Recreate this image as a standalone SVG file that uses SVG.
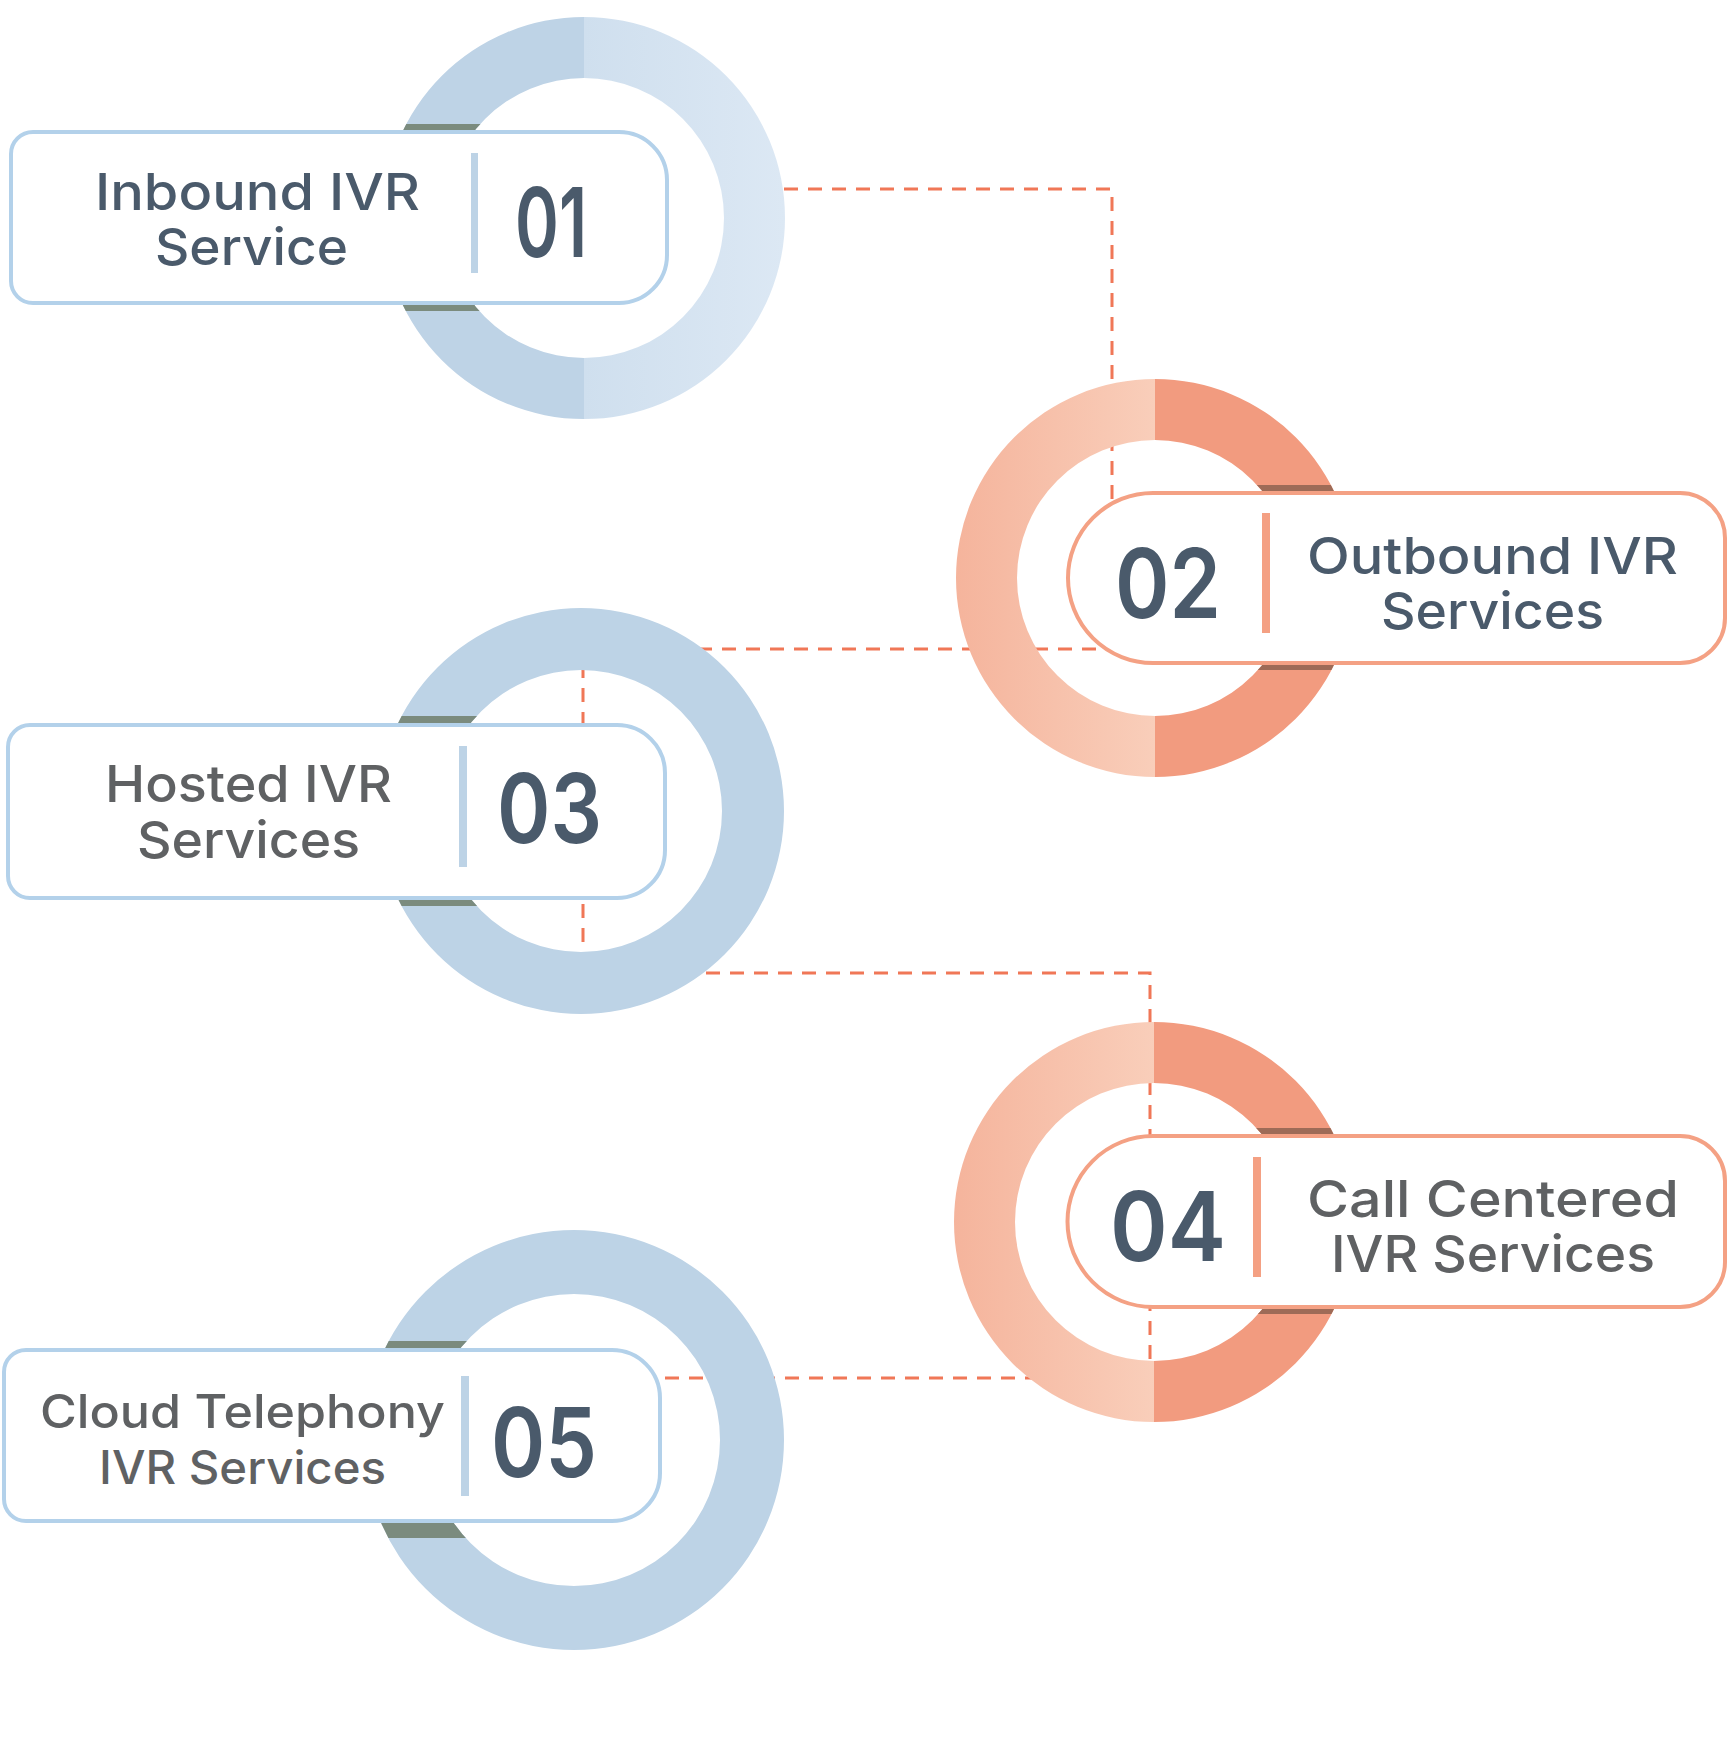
<svg xmlns="http://www.w3.org/2000/svg" width="1729" height="1740" viewBox="0 0 1729 1740">
<style>
.conn{fill:none;stroke:#F07757;stroke-width:3;stroke-dasharray:14 10}
.boxb{fill:#fff;stroke:#B3D1EA;stroke-width:4}
.boxo{fill:#fff;stroke:#F4A184;stroke-width:4}
.divb{fill:#BDD3E6}
.divo{fill:#F4A083}
.lbl{font-family:Inter,"Open Sans","Liberation Sans",sans-serif;font-weight:500;font-size:51px}
.slate{fill:#4A5A6B}
.grey{fill:#5F6163}
.num{font-family:Inter,"Open Sans","Liberation Sans",sans-serif;font-weight:600;font-size:96px;fill:#4A5A6B}
.bandb{fill:#7B8B7E}
.bando{fill:#9E6B57}
.ringb{fill:#BDD3E6}
.ringo{fill:#F29B7F}
</style>
<defs>
<linearGradient id="gB" x1="0" y1="0" x2="1" y2="0">
<stop offset="0" stop-color="#CFDFEE"/><stop offset="1" stop-color="#DCE8F4"/>
</linearGradient>
<linearGradient id="gO" x1="0" y1="0" x2="1" y2="0">
<stop offset="0" stop-color="#F5B49C"/><stop offset="1" stop-color="#F9CEBA"/>
</linearGradient>
<clipPath id="c1"><path clip-rule="evenodd" d="M383,218A201,201 0 1 0 785,218A201,201 0 1 0 383,218ZM444,218A140,140 0 1 1 724,218A140,140 0 1 1 444,218Z"/></clipPath>
<clipPath id="c2"><path clip-rule="evenodd" d="M956,578A199,199 0 1 0 1354,578A199,199 0 1 0 956,578ZM1017,578A138,138 0 1 1 1293,578A138,138 0 1 1 1017,578Z"/></clipPath>
<clipPath id="c3"><path clip-rule="evenodd" d="M378,811A203,203 0 1 0 784,811A203,203 0 1 0 378,811ZM440,811A141,141 0 1 1 722,811A141,141 0 1 1 440,811Z"/></clipPath>
<clipPath id="c4"><path clip-rule="evenodd" d="M954,1222A200,200 0 1 0 1354,1222A200,200 0 1 0 954,1222ZM1015,1222A139,139 0 1 1 1293,1222A139,139 0 1 1 1015,1222Z"/></clipPath>
<clipPath id="c5"><path clip-rule="evenodd" d="M364,1440A210,210 0 1 0 784,1440A210,210 0 1 0 364,1440ZM428,1440A146,146 0 1 1 720,1440A146,146 0 1 1 428,1440Z"/></clipPath>
</defs>
<rect width="1729" height="1740" fill="#fff"/>
<g id="connectors">
<path class="conn" d="M784,189H1112V580"/>
<path class="conn" d="M1120,649H583V973H1150V1378H600"/>
</g>
<g id="node1">
<path fill="#BED3E6" d="M584,17A201,201 0 0 0 584,419L584,358A140,140 0 0 1 584,78Z"/>
<path fill="url(#gB)" d="M584,17A201,201 0 0 1 584,419L584,358A140,140 0 0 0 584,78Z"/>
<g clip-path="url(#c1)"><rect class="bandb" x="9" y="124" width="660" height="7"/><rect class="bandb" x="9" y="304" width="660" height="7"/></g>
<path class="boxb" d="M33,132H619A48,48 0 0 1 667,180V255A48,48 0 0 1 619,303H33A22,22 0 0 1 11,281V154A22,22 0 0 1 33,132Z"/>
<rect class="divb" x="471" y="153" width="7" height="120"/>
<text class="lbl slate" x="95" y="210" textLength="325" lengthAdjust="spacingAndGlyphs">Inbound IVR</text>
<text class="lbl slate" x="155" y="265" textLength="193" lengthAdjust="spacingAndGlyphs">Service</text>
<text class="num" x="515" y="257" textLength="72" lengthAdjust="spacingAndGlyphs">01</text>
</g>
<g id="node2">
<path fill="url(#gO)" d="M1155,379A199,199 0 0 0 1155,777L1155,716A138,138 0 0 1 1155,440Z"/>
<path class="ringo" d="M1155,379A199,199 0 0 1 1155,777L1155,716A138,138 0 0 0 1155,440Z"/>
<g clip-path="url(#c2)"><rect class="bando" x="1066" y="485" width="661" height="7"/><rect class="bando" x="1066" y="664" width="661" height="6"/></g>
<path class="boxo" d="M1153,493H1680A45,45 0 0 1 1725,538V618A45,45 0 0 1 1680,663H1153A85,85 0 0 1 1153,493Z"/>
<rect class="divo" x="1262" y="513" width="8" height="120"/>
<text class="lbl slate" x="1307" y="574" textLength="371" lengthAdjust="spacingAndGlyphs">Outbound IVR</text>
<text class="lbl slate" x="1381" y="629" textLength="223" lengthAdjust="spacingAndGlyphs">Services</text>
<text class="num" x="1115" y="618" textLength="106" lengthAdjust="spacingAndGlyphs">02</text>
</g>
<g id="node3">
<path class="ringb" fill-rule="evenodd" d="M378,811A203,203 0 1 0 784,811A203,203 0 1 0 378,811ZM440,811A141,141 0 1 1 722,811A141,141 0 1 1 440,811Z"/>
<g clip-path="url(#c3)"><rect class="bandb" x="6" y="716" width="661" height="8"/><rect class="bandb" x="6" y="899" width="661" height="7"/></g>
<path class="boxb" d="M30,725H617A48,48 0 0 1 665,773V850A48,48 0 0 1 617,898H30A22,22 0 0 1 8,876V747A22,22 0 0 1 30,725Z"/>
<rect class="divb" x="459" y="746" width="8" height="121"/>
<text class="lbl grey" x="105" y="802" textLength="287" lengthAdjust="spacingAndGlyphs">Hosted IVR</text>
<text class="lbl grey" x="137" y="858" textLength="223" lengthAdjust="spacingAndGlyphs">Services</text>
<text class="num" x="497" y="843" textLength="105" lengthAdjust="spacingAndGlyphs">03</text>
</g>
<g id="node4">
<path fill="url(#gO)" d="M1154,1022A200,200 0 0 0 1154,1422L1154,1361A139,139 0 0 1 1154,1083Z"/>
<path class="ringo" d="M1154,1022A200,200 0 0 1 1154,1422L1154,1361A139,139 0 0 0 1154,1083Z"/>
<g clip-path="url(#c4)"><rect class="bando" x="1066" y="1128" width="661" height="7"/><rect class="bando" x="1066" y="1308" width="661" height="6"/></g>
<path class="boxo" d="M1153,1136H1680A45,45 0 0 1 1725,1181V1262A45,45 0 0 1 1680,1307H1153A85.5,85.5 0 0 1 1153,1136Z"/>
<rect class="divo" x="1253" y="1157" width="8" height="120"/>
<text class="lbl grey" x="1307" y="1217" textLength="372" lengthAdjust="spacingAndGlyphs">Call Centered</text>
<text class="lbl grey" x="1331" y="1272" textLength="324" lengthAdjust="spacingAndGlyphs">IVR Services</text>
<text class="num" x="1110" y="1261" textLength="116" lengthAdjust="spacingAndGlyphs">04</text>
</g>
<g id="node5">
<path class="ringb" fill-rule="evenodd" d="M364,1440A210,210 0 1 0 784,1440A210,210 0 1 0 364,1440ZM428,1440A146,146 0 1 1 720,1440A146,146 0 1 1 428,1440Z"/>
<g clip-path="url(#c5)"><rect class="bandb" x="2" y="1341" width="660" height="8"/><rect class="bandb" x="2" y="1520" width="660" height="18"/></g>
<path class="boxb" d="M26,1350H612A48,48 0 0 1 660,1398V1473A48,48 0 0 1 612,1521H26A22,22 0 0 1 4,1499V1372A22,22 0 0 1 26,1350Z"/>
<rect class="divb" x="461" y="1376" width="8" height="120"/>
<text class="lbl grey" x="40" y="1428" style="font-size:46px" textLength="405" lengthAdjust="spacingAndGlyphs">Cloud Telephony</text>
<text class="lbl grey" x="99" y="1484" style="font-size:46px" textLength="287" lengthAdjust="spacingAndGlyphs">IVR Services</text>
<text class="num" x="491" y="1477" textLength="106" lengthAdjust="spacingAndGlyphs">05</text>
</g>
</svg>
